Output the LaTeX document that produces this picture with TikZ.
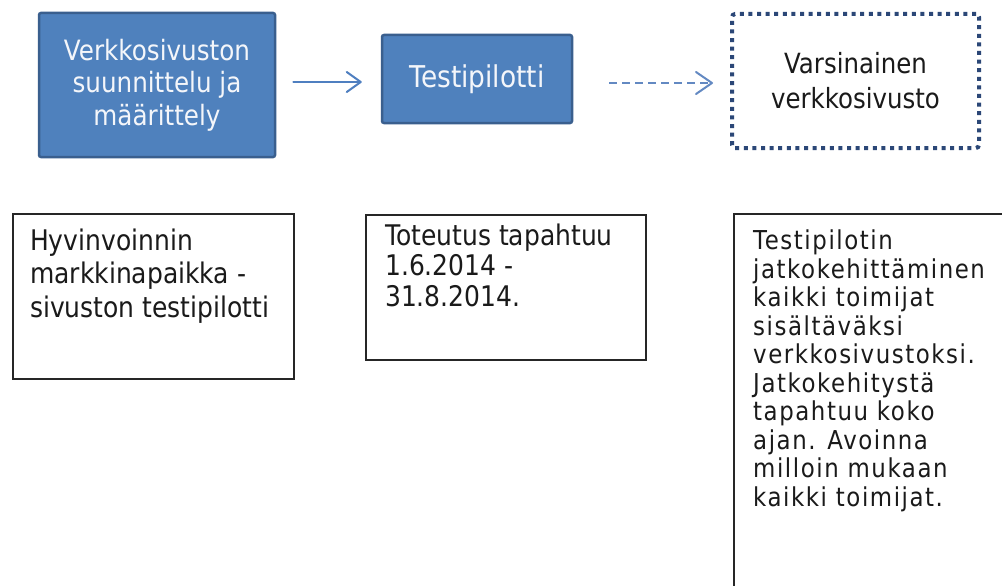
\documentclass[tikz,border=0pt]{standalone}
\usepackage{fontspec}
\setmainfont[FakeStretch=0.88]{DejaVu Sans}
\newfontfamily\spacedfont[FakeStretch=0.88, LetterSpace=6]{DejaVu Sans}
\usetikzlibrary{arrows.meta}
\definecolor{bfill}{HTML}{4F81BD}
\definecolor{bborder}{HTML}{3A5F8E}
\definecolor{dotc}{HTML}{2B4777}
\definecolor{arrc}{HTML}{4F7FC0}
\definecolor{darrc}{HTML}{6389C2}
\definecolor{txtc}{HTML}{1A1A1A}
\definecolor{wtxt}{HTML}{F4F6FA}
\begin{document}
\begin{tikzpicture}[x=1pt,y=-1pt,
  bluebox/.style={draw=bborder, line width=2.5pt, fill=bfill, rounded corners=2pt,
    text=wtxt, align=center, inner sep=0pt},
  dotbox/.style={draw=dotc, line width=4pt, dash pattern=on 4pt off 4.6pt,
    rounded corners=3pt, text=txtc, align=center, inner sep=0pt},
  plainbox/.style={draw=black!85, line width=2pt, inner sep=0pt, anchor=north west},
  txt/.style={text=txtc, align=left, inner sep=0pt, anchor=north west},
  arr/.style={draw=arrc, line width=2pt, line cap=round,
    -{Straight Barb[length=14pt, width=20pt, line width=2pt, round]}},
  darr/.style={draw=darrc, line width=2pt, dash pattern=on 8pt off 5pt,
    -{Straight Barb[length=16pt, width=22pt, line width=2pt, round]}}
]
\clip (0,0) rectangle (1002,586);
\fill[white] (0,0) rectangle (1002,586);

% top row
\node[bluebox, minimum width=236pt, minimum height=144pt,
  font=\fontsize{28}{32.5}\selectfont] (b1) at (157,85)
  {Verkkosivuston\\suunnittelu ja\\määrittely};
\node[bluebox, minimum width=190pt, minimum height=88pt,
  font=\fontsize{30}{31}\selectfont] (b2) at (477,79) {Testipilotti};
\node[dotbox, minimum width=247pt, minimum height=134pt,
  font=\fontsize{27.8}{35}\selectfont] (b3) at (855.5,81)
  {Varsinainen\\verkkosivusto};

\draw[arr] ([shift={(17,-3)}]b1.east) -- ([shift={(-19,3)}]b2.west);
\draw[darr] ([shift={(36,4)}]b2.east) -- ([shift={(-17,2)}]b3.west);

% bottom row
\node[plainbox, minimum width=281pt, minimum height=165pt] (c1) at (12,213) {};
\node[plainbox, minimum width=280pt, minimum height=145pt] (c2) at (365,214) {};
\node[plainbox, minimum width=320pt, minimum height=420pt] (c3) at (733,213) {};

\node[txt, font=\fontsize{28.4}{33.5}\selectfont] (t1) at ([shift={(18,15.5)}]c1.north west)
  {Hyvinvoinnin\\markkinapaikka -\\sivuston testipilotti};
\node[txt, font=\fontsize{28.4}{30.5}\selectfont] (t2) at ([shift={(20,9.5)}]c2.north west)
  {Toteutus tapahtuu\\1.6.2014 -\\31.8.2014.};
\node[txt, font=\spacedfont\fontsize{26}{28.5}\selectfont] (t3) at ([shift={(20,17)}]c3.north west)
  {Testipilotin\\jatkokehittäminen\\kaikki toimijat\\sisältäväksi\\verkkosivustoksi.\\Jatkokehitystä\\tapahtuu koko\\ajan. Avoinna\\milloin mukaan\\kaikki toimijat.};
\end{tikzpicture}
\end{document}
